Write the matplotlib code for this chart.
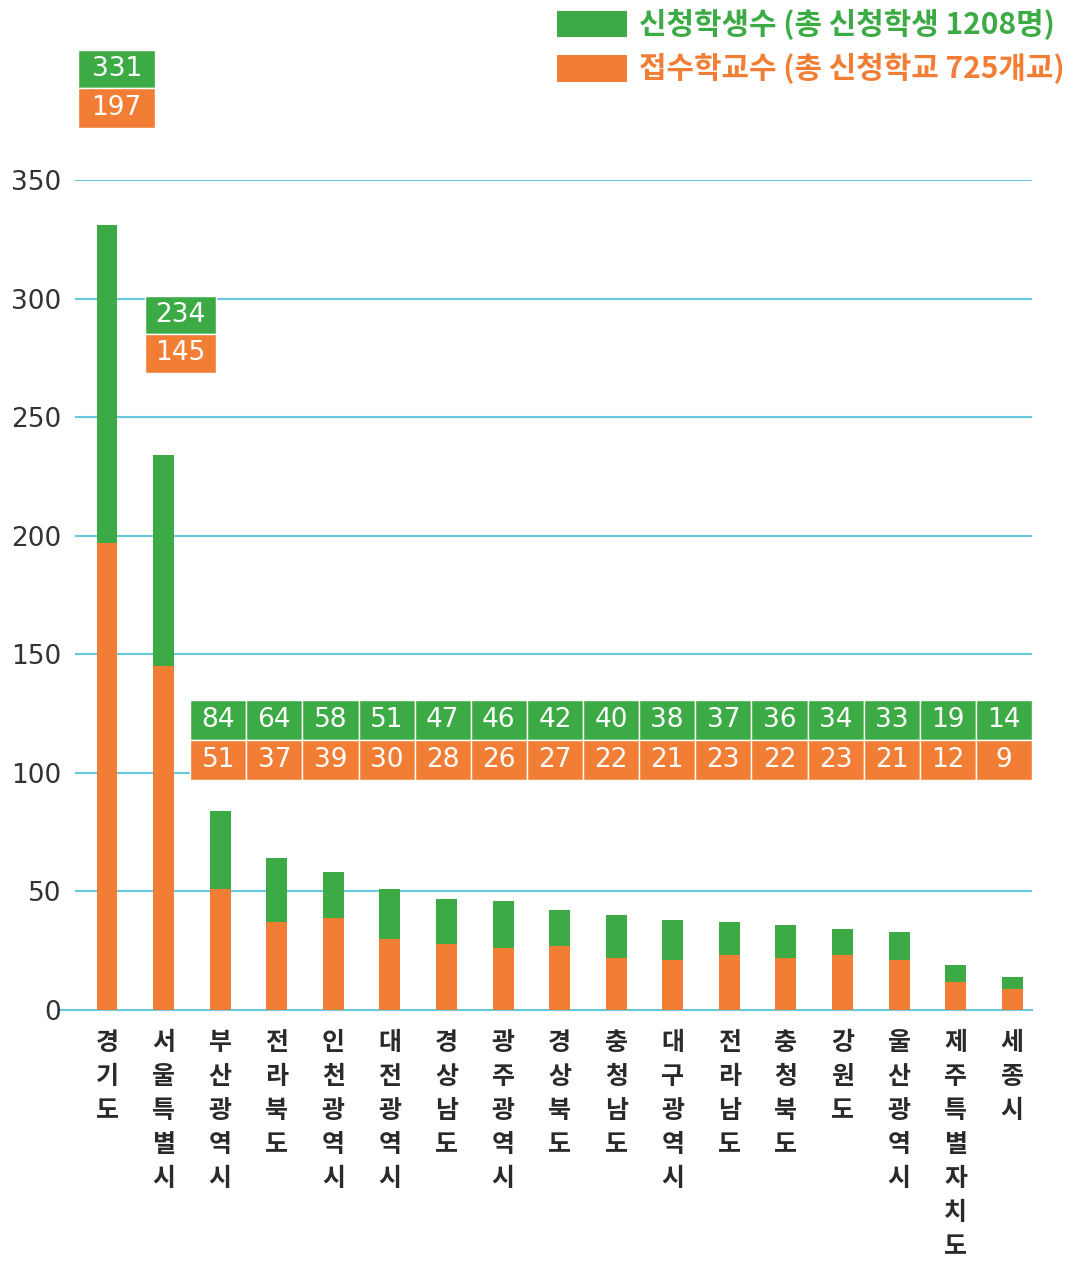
import matplotlib.pyplot as plt
from matplotlib.patches import Rectangle

plt.rcParams['font.family'] = ['Noto Sans CJK KR', 'DejaVu Sans']

# data
regions = ['경기도', '서울특별시', '부산광역시', '전라북도', '인천광역시', '대전광역시',
           '경상남도', '광주광역시', '경상북도', '충청남도', '대구광역시', '전라남도',
           '충청북도', '강원도', '울산광역시', '제주특별자치도', '세종시']
students = [331, 234, 84, 64, 58, 51, 47, 46, 42, 40, 38, 37, 36, 34, 33, 19, 14]
schools = [197, 145, 51, 37, 39, 30, 28, 26, 27, 22, 21, 23, 22, 23, 21, 12, 9]
y_ticks = [0, 50, 100, 150, 200, 250, 300, 350]

green = '#3cab45'
orange = '#f27e35'
grid_c = '#66c8dc'

fig = plt.figure(figsize=(10.78, 12.75), dpi=100)
ax = fig.add_axes([75 / 1078, 265 / 1275, 957 / 1078, 830 / 1275])

x = list(range(len(regions)))
w = 0.37
# orange = schools, green drawn on top up to the student count
ax.bar(x, schools, width=w, color=orange, zorder=3)
ax.bar(x, [s - c for s, c in zip(students, schools)], bottom=schools,
       width=w, color=green, zorder=3)

ax.set_xlim(-0.566, 16.35)
ax.set_ylim(0, 350)

for yv in y_ticks:
    if yv == 0:
        ax.axhline(yv, xmin=-15 / 957, xmax=1, color=grid_c, lw=1.5, zorder=1, clip_on=False)
    else:
        ax.axhline(yv, color=grid_c, lw=1.5, zorder=1)

for s in ax.spines.values():
    s.set_visible(False)
ax.set_yticks(y_ticks)
ax.set_yticklabels([str(v) for v in y_ticks], fontsize=19, color='#333333',
                   family='DejaVu Sans')
ax.tick_params(axis='y', length=0, pad=10)
ax.set_xticks(x)
ax.set_xticklabels(['\n'.join(r) for r in regions], fontsize=18, color='#2a2a2a',
                   fontweight='bold', linespacing=1.53, va='top')
ax.tick_params(axis='x', length=0, pad=15)


def label_box(x0, x1, y_top, y_mid, y_bot, s_val, c_val):
    ax.add_patch(Rectangle((x0, y_mid), x1 - x0, y_top - y_mid, facecolor=green,
                           edgecolor='white', lw=1, clip_on=False, zorder=4))
    ax.add_patch(Rectangle((x0, y_bot), x1 - x0, y_mid - y_bot, facecolor=orange,
                           edgecolor='white', lw=1, clip_on=False, zorder=4))
    xc = (x0 + x1) / 2
    ax.text(xc, (y_top + y_mid) / 2, str(s_val), color='white', fontsize=19,
            family='DejaVu Sans', ha='center', va='center', zorder=5, clip_on=False)
    ax.text(xc, (y_mid + y_bot) / 2, str(c_val), color='white', fontsize=19,
            family='DejaVu Sans', ha='center', va='center', zorder=5, clip_on=False)


# value boxes for the two big bars
label_box(-0.51, 0.85, 405, 389, 372, students[0], schools[0])
label_box(0.67, 1.93, 301, 285, 268.7, students[1], schools[1])
# row of value boxes for the rest
row_left, row_right = 1.47, 16.35
bw = (row_right - row_left) / (len(regions) - 2)
for k, i in enumerate(x[2:]):
    x0 = row_left + k * bw
    label_box(x0, x0 + bw, 130.7, 113.9, 97, students[i], schools[i])

# legend
fig.patches.append(Rectangle((557 / 1078, 1 - 37 / 1275), 70 / 1078, 26 / 1275,
                             transform=fig.transFigure, facecolor=green, edgecolor='none'))
fig.patches.append(Rectangle((557 / 1078, 1 - 82 / 1275), 70 / 1078, 27 / 1275,
                             transform=fig.transFigure, facecolor=orange, edgecolor='none'))
fig.text(639 / 1078, 1 - 24 / 1275, '신청학생수 (총 신청학생 1208명)', color=green,
         fontsize=21.5, fontweight='bold', va='center', ha='left')
fig.text(639 / 1078, 1 - 68 / 1275, '접수학교수 (총 신청학교 725개교)', color=orange,
         fontsize=21.5, fontweight='bold', va='center', ha='left')

fig.savefig('out.png', dpi=100, facecolor='white')
